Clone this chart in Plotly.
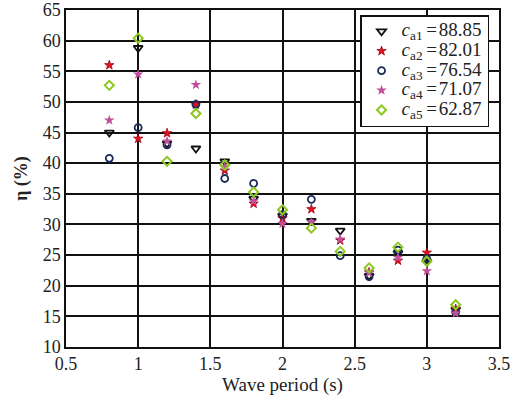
import plotly.graph_objects as go

periods = [0.8, 1.0, 1.2, 1.4, 1.6, 1.8, 2.0, 2.2, 2.4, 2.6, 2.8, 3.0, 3.2]
ca1 = [45.0, 58.8, 43.2, 42.4, 40.3, 34.2, 31.4, 30.6, 29.0, 21.6, 25.3, 23.9, 16.1]
ca2 = [56.0, 44.0, 44.9, 49.6, 38.8, 33.4, 31.0, 32.5, 27.4, 22.2, 24.1, 25.4, 16.2]
ca3 = [40.8, 45.8, 43.0, 49.6, 37.5, 36.7, 31.6, 34.1, 24.9, 21.5, 25.8, 24.4, 15.7]
ca4 = [47.0, 54.5, 43.6, 52.8, 39.4, 33.8, 30.1, 30.4, 27.6, 22.1, 24.6, 22.4, 15.5]
ca5 = [52.7, 60.4, 40.3, 48.1, 39.7, 35.3, 32.4, 29.4, 25.6, 22.9, 26.3, 24.0, 16.9]
labels = ["88.85", "82.01", "76.54", "71.07", "62.87"]
names = ["a1", "a2", "a3", "a4", "a5"]

SERIF = "Liberation Serif"

styles = [
    dict(symbol="triangle-down-open", color="#111111", size=8, line=dict(width=1.8, color="#111111")),
    dict(symbol="star", color="#e8101a", size=7, line=dict(width=0.8, color="#9a0010")),
    dict(symbol="circle-open", color="#1a2a5a", size=7, line=dict(width=1.8, color="#1a2a5a")),
    dict(symbol="star", color="#c0509c", size=8, line=dict(width=0, color="#c0509c")),
    dict(symbol="diamond-open", color="#8cc820", size=7, line=dict(width=2, color="#8cc820")),
]

fig = go.Figure()
for series, nm, lab, st in zip([ca1, ca2, ca3, ca4, ca5], names, labels, styles):
    fig.add_trace(go.Scatter(
        x=periods, y=series, mode="markers",
        name=(f'<span style="font-size:19px"><i>c</i><sub>{nm}</sub>'
              f'\u2009=\u200a{lab}</span>'),
        marker=st,
    ))

axis_common = dict(
    showgrid=True, gridcolor="#111111", gridwidth=2,
    showline=True, linecolor="#111111", linewidth=1.5, mirror=True,
    ticks="inside", ticklen=4, tickcolor="#111111",
    zeroline=False, automargin=False,
    tickfont=dict(family=SERIF, size=18, color="#222222"),
)

fig.update_layout(
    width=519, height=396,
    margin=dict(l=66, r=20, t=10, b=49),
    paper_bgcolor="white", plot_bgcolor="white",
    font=dict(family=SERIF, color="#222222"),
    xaxis=dict(range=[0.5, 3.5], dtick=0.5, **axis_common,
               title=dict(text="Wave period (s)", standoff=0,
                          font=dict(family=SERIF, size=19, color="#222222"))),
    yaxis=dict(range=[10, 65], dtick=5, **axis_common,
               title=dict(text="<b>η (%)</b>", standoff=10,
                          font=dict(family=SERIF, size=18, color="#222222"))),
    legend=dict(x=0.977, y=0.985, xanchor="right", yanchor="top",
                bgcolor="white", bordercolor="#111111", borderwidth=1.5,
                font=dict(family=SERIF, size=12.8, color="#222222"),
                itemsizing="trace", tracegroupgap=0,
                itemwidth=30),
    showlegend=True,
)

fig.write_html("out.html")
